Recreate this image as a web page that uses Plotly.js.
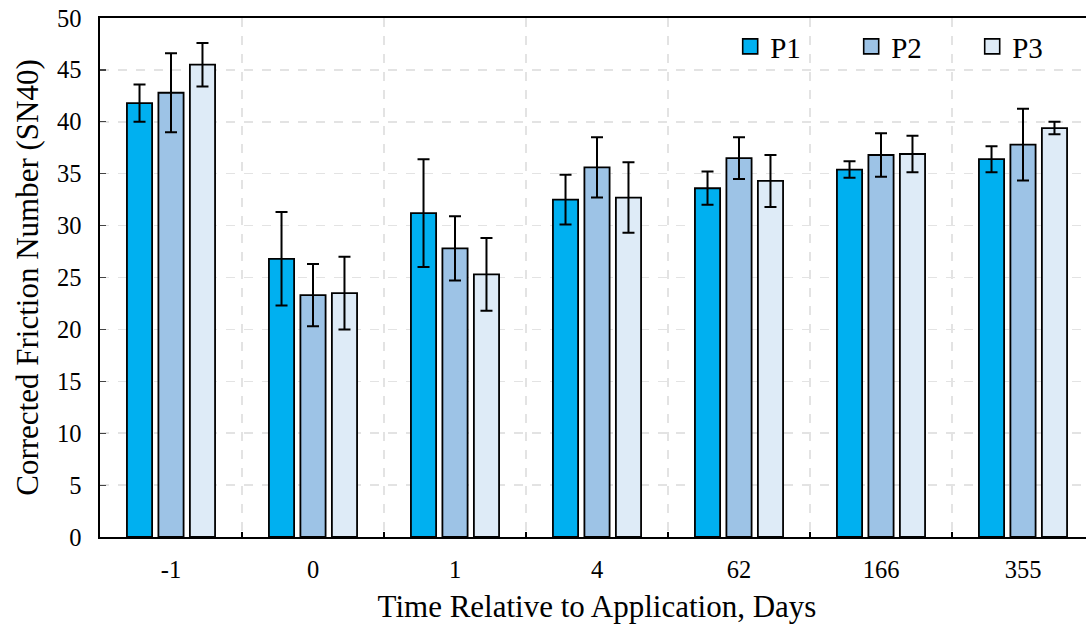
<!DOCTYPE html>
<html>
<head>
<meta charset="utf-8">
<script src="https://cdn.plot.ly/plotly-3.0.1.min.js"></script>
<style>
  html, body { margin: 0; padding: 0; overflow: hidden; background: #fff; }
  #chart { width: 1100px; height: 626px; }
</style>
</head>
<body>
<div id="chart"></div>
<script>
// Sampling days relative to the surface treatment
const categories = ['-1', '0', '1', '4', '62', '166', '355'];

// Mean corrected friction number (SN40) per section, with standard deviations
const p1 = [41.8, 26.8, 31.2, 32.5, 33.6, 35.4, 36.4];
const p1Err = [1.8, 4.5, 5.2, 2.4, 1.6, 0.8, 1.25];
const p2 = [42.8, 23.3, 27.8, 35.6, 36.5, 36.8, 37.8];
const p2Err = [3.8, 3.0, 3.1, 2.9, 2.0, 2.1, 3.45];
const p3 = [45.5, 23.5, 25.3, 32.7, 34.3, 36.9, 39.4];
const p3Err = [2.1, 3.5, 3.5, 3.4, 2.5, 1.75, 0.6];

const seriesNames = ['P1', 'P2', 'P3'];
const seriesColors = ['#00B0F0', '#9DC3E6', '#DEEBF7'];

const FONT = 'Liberation Serif, Times New Roman, serif';

function barTrace(name, values, errs, color) {
  return {
    type: 'bar',
    name: name,
    x: categories,
    y: values,
    showlegend: false,
    marker: { color: color, line: { color: '#000', width: 1.8 } },
    error_y: { type: 'data', array: errs, visible: true, color: '#000', thickness: 2, width: 6 },
    hoverinfo: 'x+y'
  };
}

// Legend-only entries so the swatches are drawn as larger squares
function legendTrace(name, color) {
  return {
    type: 'scatter',
    mode: 'markers',
    name: name,
    x: [null],
    y: [null],
    marker: { symbol: 'square', size: 15, color: color, line: { color: '#000', width: 1.6 } },
    hoverinfo: 'skip'
  };
}

const data = [
  barTrace(seriesNames[0], p1, p1Err, seriesColors[0]),
  barTrace(seriesNames[1], p2, p2Err, seriesColors[1]),
  barTrace(seriesNames[2], p3, p3Err, seriesColors[2]),
  legendTrace(seriesNames[0], seriesColors[0]),
  legendTrace(seriesNames[1], seriesColors[1]),
  legendTrace(seriesNames[2], seriesColors[2])
];

const layout = {
  width: 1100,
  height: 626,
  margin: { l: 100, r: 6, t: 18, b: 89, autoexpand: false },
  paper_bgcolor: '#fff',
  plot_bgcolor: '#fff',
  font: { family: FONT, color: '#000', size: 24 },
  barmode: 'group',
  bargap: 0.335,
  bargroupgap: 0.2,
  showlegend: true,
  legend: {
    orientation: 'h',
    x: 0.634, xanchor: 'left',
    y: 0.945, yanchor: 'middle',
    bgcolor: 'rgba(0,0,0,0)',
    font: { family: FONT, size: 29, color: '#000' },
    entrywidth: 76,
    entrywidthmode: 'pixels'
  },
  xaxis: {
    type: 'category',
    categoryorder: 'array',
    categoryarray: categories,
    range: [-0.5, 6.5],
    tickson: 'boundaries',
    ticks: 'inside',
    ticklen: 5,
    tickwidth: 1.2,
    tickcolor: '#000',
    showline: true,
    linecolor: '#000',
    linewidth: 1.6,
    mirror: true,
    showgrid: true,
    gridcolor: '#e3e3e3',
    gridwidth: 1.5,
    griddash: 'dash',
    ticklabelstandoff: 10,
    tickfont: { family: FONT, size: 24.5, color: '#000' },
    title: { text: 'Time Relative to Application, Days', font: { family: FONT, size: 31, color: '#000' }, standoff: 13 },
    fixedrange: true
  },
  yaxis: {
    range: [0, 50],
    dtick: 5,
    tick0: 0,
    ticks: 'inside',
    ticklen: 6,
    tickwidth: 1.2,
    tickcolor: '#444',
    showline: true,
    linecolor: '#000',
    linewidth: 1.6,
    mirror: true,
    showgrid: true,
    gridcolor: '#e3e3e3',
    gridwidth: 1.5,
    griddash: 'dash',
    zeroline: false,
    ticklabelstandoff: 12,
    tickfont: { family: FONT, size: 24.5, color: '#000' },
    title: { text: 'Corrected Friction Number (SN40)', font: { family: FONT, size: 31, color: '#000' }, standoff: 9 },
    fixedrange: true
  }
};

Plotly.newPlot('chart', data, layout, { displayModeBar: false, staticPlot: true });
</script>
</body>
</html>
